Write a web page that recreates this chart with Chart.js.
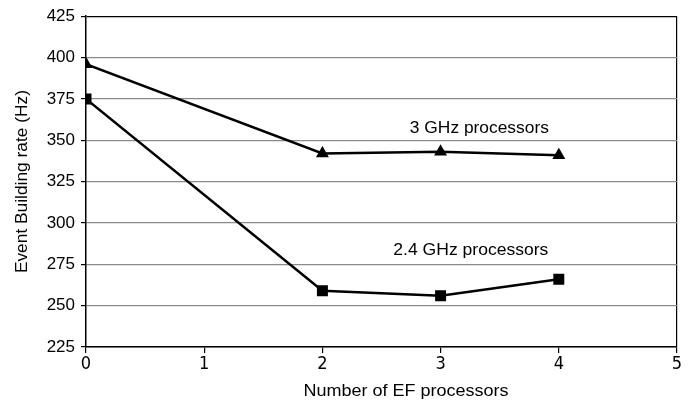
<!DOCTYPE html>
<html>
<head>
<meta charset="utf-8">
<script src="https://cdn.jsdelivr.net/npm/chart.js@4"></script>
<style>
  html, body { margin: 0; padding: 0; background: #fff; }
  #wrap { width: 693px; height: 404px; }
</style>
</head>
<body>
<div id="wrap"><canvas id="c" width="693" height="404"></canvas></div>
<script>
// Datos
const efProcessors = [0, 2, 3, 4];
const rate3GHz = [396, 342, 343, 341];
const rate24GHz = [375, 259, 256, 266];
const seriesNames = ["3 GHz processors", "2.4 GHz processors"];
const xTicks = [0, 1, 2, 3, 4, 5];
const yTicks = [225, 250, 275, 300, 325, 350, 375, 400, 425];

const SANS = "'Liberation Sans', Arial, sans-serif";
const COND = "'DejaVu Sans Condensed', 'DejaVu Sans', sans-serif";

const pts = (ys) => efProcessors.map((x, i) => ({ x, y: ys[i] }));

// Texto ajustado en horizontal hasta un ancho dado
function wideText(ctx, text, x, y, width, align) {
  const w = ctx.measureText(text).width;
  const k = width / w;
  ctx.save();
  ctx.translate(x, y);
  ctx.scale(k, 1);
  ctx.textAlign = align;
  ctx.fillText(text, 0, 0);
  ctx.restore();
}

// Etiquetas de series y títulos de ejes dibujados a mano
const annotations = {
  id: "annotations",
  afterDraw(chart) {
    const { ctx, scales: { x, y }, chartArea } = chart;
    ctx.save();
    ctx.fillStyle = "#000";
    ctx.textBaseline = "middle";
    ctx.font = "17px " + SANS;
    wideText(ctx, seriesNames[0], x.getPixelForValue(2.74), y.getPixelForValue(357.5), 139, "left");
    wideText(ctx, seriesNames[1], x.getPixelForValue(2.6), y.getPixelForValue(283.5), 155, "left");
    ctx.font = "16px " + SANS;
    wideText(ctx, "Number of EF processors", 406, 392, 205, "center");
    ctx.translate(22, (chartArea.top + chartArea.bottom) / 2);
    ctx.rotate(-Math.PI / 2);
    ctx.font = "17px " + SANS;
    wideText(ctx, "Event Building rate (Hz)", 0, 0, 183, "center");
    ctx.restore();
  },
};

new Chart(document.getElementById("c"), {
  type: "line",
  data: {
    datasets: [
      { label: seriesNames[0], data: pts(rate3GHz), borderColor: "#000", backgroundColor: "#000",
        borderWidth: 2.5, pointStyle: "triangle", pointRadius: 5, tension: 0 },
      { label: seriesNames[1], data: pts(rate24GHz), borderColor: "#000", backgroundColor: "#000",
        borderWidth: 2.5, pointStyle: "rect", pointRadius: 6, tension: 0 },
    ],
  },
  options: {
    responsive: false, animation: false,
    layout: { padding: { top: 14, right: 16, left: 0, bottom: 0 } },
    plugins: { legend: { display: false }, tooltip: { enabled: false } },
    scales: {
      x: {
        type: "linear", min: 0, max: 5,
        afterBuildTicks: (s) => { s.ticks = xTicks.map((v) => ({ value: v })); },
        afterFit: (s) => { s.height = 57; },
        border: { color: "#000", width: 1.5 },
        grid: {
          color: (c) => (c.tick && c.tick.value === 5 ? "#000" : "rgba(0,0,0,0)"),
          tickColor: "#000", tickLength: 6, lineWidth: 1.2,
        },
        ticks: { color: "#000", font: { family: COND, size: 18 }, padding: 1 },
      },
      y: {
        min: 225, max: 425,
        afterBuildTicks: (s) => { s.ticks = yTicks.map((v) => ({ value: v })); },
        afterFit: (s) => { s.width = 86; },
        border: { color: "#000", width: 1.5 },
        grid: {
          color: (c) => (c.tick && c.tick.value === 425 ? "#000" : "#8a8a8a"),
          tickColor: "#000", tickLength: 5, lineWidth: 1.2,
        },
        ticks: { color: "#000", font: { family: SANS, size: 17 }, padding: 6 },
      },
    },
  },
  plugins: [annotations],
});
</script>
</body>
</html>
